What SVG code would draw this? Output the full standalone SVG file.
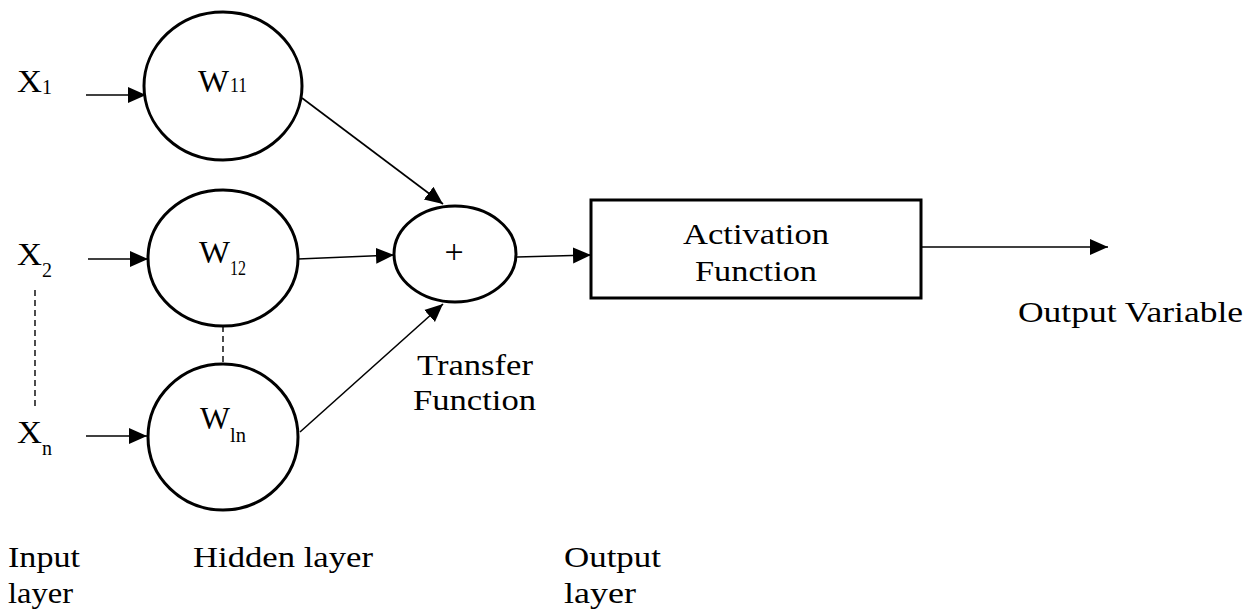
<svg xmlns="http://www.w3.org/2000/svg" width="1257" height="616" viewBox="0 0 1257 616">
<style>
text{font-family:"Liberation Serif","Times New Roman",serif;fill:#000;font-size:30px}
.v{font-size:32px}
.sub{font-size:20px}
.node{fill:#fff;stroke:#000;stroke-width:3}
.edge{stroke:#000;stroke-width:1.6;fill:none}
.dash{stroke:#000;stroke-width:1.4;stroke-dasharray:6,4;fill:none}
</style>
<defs>
<marker id="ah" markerUnits="userSpaceOnUse" markerWidth="20" markerHeight="18" refX="18" refY="9" orient="auto">
<path d="M0,1 L18,9 L0,17 Z" fill="#000"/>
</marker>
</defs>
<rect width="1257" height="616" fill="#fff"/>
<g id="connectors">
<line class="edge" x1="86" y1="95" x2="146" y2="95" marker-end="url(#ah)"/>
<line class="edge" x1="88" y1="259" x2="148" y2="259" marker-end="url(#ah)"/>
<line class="edge" x1="86" y1="436" x2="147" y2="436" marker-end="url(#ah)"/>
<line class="edge" x1="302" y1="98" x2="443" y2="204" marker-end="url(#ah)"/>
<line class="edge" x1="298" y1="259" x2="394" y2="255" marker-end="url(#ah)"/>
<line class="edge" x1="300" y1="432" x2="443" y2="304" marker-end="url(#ah)"/>
<line class="edge" x1="517" y1="257" x2="591" y2="255" marker-end="url(#ah)"/>
<line class="edge" x1="921" y1="247" x2="1108" y2="247" marker-end="url(#ah)"/>
<line class="dash" x1="35" y1="290" x2="35" y2="410"/>
<line class="dash" x1="223" y1="326" x2="223" y2="363"/>
</g>
<g id="x1"><text class="v" x="17" y="92" textLength="25" lengthAdjust="spacingAndGlyphs">X</text><text class="sub" x="42" y="94">1</text></g>
<g id="x2"><text class="v" x="17" y="265" textLength="25" lengthAdjust="spacingAndGlyphs">X</text><text class="sub" x="42" y="277">2</text></g>
<g id="xn"><text class="v" x="17" y="443" textLength="25" lengthAdjust="spacingAndGlyphs">X</text><text class="sub" x="42" y="455">n</text></g>
<g id="w11"><ellipse class="node" cx="223" cy="86" rx="79" ry="74"/><text class="v" x="198" y="92" textLength="31" lengthAdjust="spacingAndGlyphs">W</text><text class="sub" x="230" y="92" textLength="17" lengthAdjust="spacingAndGlyphs">11</text></g>
<g id="w12"><ellipse class="node" cx="223" cy="258" rx="75" ry="68"/><text class="v" x="199" y="263" textLength="31" lengthAdjust="spacingAndGlyphs">W</text><text class="sub" x="230" y="275" textLength="16" lengthAdjust="spacingAndGlyphs">12</text></g>
<g id="wln"><ellipse class="node" cx="223" cy="437" rx="75" ry="73"/><text class="v" x="200" y="429" textLength="30" lengthAdjust="spacingAndGlyphs">W</text><text class="sub" x="230" y="442" textLength="16" lengthAdjust="spacingAndGlyphs">ln</text></g>
<g id="sum"><ellipse class="node" cx="455" cy="254" rx="61" ry="48"/><text x="454" y="263" text-anchor="middle" style="font-size:34px">+</text></g>
<g id="transfer"><text x="417" y="375" textLength="116" lengthAdjust="spacingAndGlyphs">Transfer</text><text x="413" y="410" textLength="123" lengthAdjust="spacingAndGlyphs">Function</text></g>
<g id="activation"><rect class="node" x="591" y="200" width="330" height="98"/><text x="683" y="244" textLength="146" lengthAdjust="spacingAndGlyphs">Activation</text><text x="695" y="281" textLength="122" lengthAdjust="spacingAndGlyphs">Function</text></g>
<g id="output"><text x="1018" y="322" textLength="225" lengthAdjust="spacingAndGlyphs">Output Variable</text></g>
<g id="layers">
<text x="8" y="567" textLength="72" lengthAdjust="spacingAndGlyphs">Input</text><text x="8" y="603" textLength="65" lengthAdjust="spacingAndGlyphs">layer</text>
<text x="193" y="567" textLength="180" lengthAdjust="spacingAndGlyphs">Hidden layer</text>
<text x="564" y="567" textLength="97" lengthAdjust="spacingAndGlyphs">Output</text><text x="564" y="603" textLength="72" lengthAdjust="spacingAndGlyphs">layer</text>
</g>
</svg>
